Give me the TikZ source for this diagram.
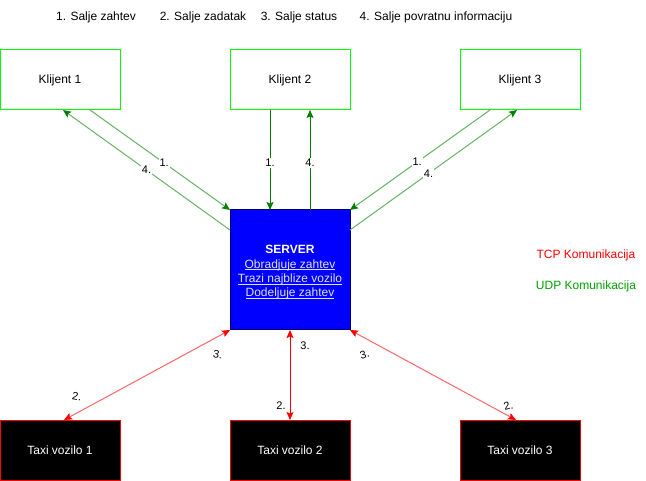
\documentclass[tikz,border=0pt]{standalone}
\usepackage{fontspec}
\setmainfont{Liberation Sans}
\usetikzlibrary{arrows.meta}
\usetikzlibrary{positioning}

\definecolor{udpline}{HTML}{66B366}
\definecolor{udpdark}{HTML}{008000}
\definecolor{udptext}{HTML}{00A000}
\definecolor{tcpline}{HTML}{FF6666}
\definecolor{tcpdark}{HTML}{FF0000}
\definecolor{klijent}{HTML}{00FF00}
\definecolor{srvtext}{HTML}{E0E0FF}

% underlined server task
\newcommand{\srvtask}[1]{\textcolor{srvtext}{\setbox0\hbox{#1}\rlap{\rule[-1.9pt]{\wd0}{0.9pt}}\box0}}

\begin{document}
\begin{tikzpicture}[x=1pt,y=-1pt,line width=1pt,node distance=110pt,
  font=\fontsize{12}{14}\selectfont,
  client node/.style={rectangle,draw=klijent,fill=white,minimum width=120pt,minimum height=60pt,inner sep=0pt,outer sep=0pt},
  taxi node/.style={rectangle,draw=tcpdark,fill=black,text=white,minimum width=120pt,minimum height=60pt,inner sep=0pt,outer sep=0pt},
  server node/.style={rectangle,draw=blue!40!black,fill=blue,minimum size=120pt,inner sep=0pt,outer sep=0pt},
  server text/.style={text=white,align=center,inner sep=0pt,font=\fontsize{12}{14.3}\selectfont},
  udp/.style={udpline,-{Stealth[length=8pt,width=7pt,inset=1.5pt,color=udpdark]}},
  udp strong/.style={udpdark,-{Stealth[length=8pt,width=7pt,inset=1.5pt]}},
  tcp/.style={tcpline,{Stealth[length=8pt,width=7pt,inset=1.5pt,color=tcpdark]}-{Stealth[length=8pt,width=7pt,inset=1.5pt,color=tcpdark]}},
  tcp strong/.style={tcpdark,{Stealth[length=8pt,width=7pt,inset=1.5pt]}-{Stealth[length=8pt,width=7pt,inset=1.5pt]}},
  num/.style={font=\fontsize{11}{13}\selectfont,text=black,fill=white,inner sep=1pt}]

  \useasboundingbox (0,0) rectangle (646,481);

  \node (s1) at (96,17) {1. Salje zahtev};
  \node (s2) at (203,17) {2. Salje zadatak};
  \node (s3) at (299,17) {3. Salje status};
  \node (s4) at (436,17) {4. Salje povratnu informaciju};

  \node[client node] (k1) at (60,80) {Klijent 1};
  \node[client node] (k2) [right=of k1] {Klijent 2};
  \node[client node] (k3) [right=of k2] {Klijent 3};
  \node[server node] (srv) [below=100pt of k2] {};
  \node[server text] (srvtxt) at ([yshift=-2.5pt]srv.center) {\textbf{SERVER}\\
    \srvtask{Obradjuje zahtev}\\
    \srvtask{Trazi najblize vozilo}\\
    \srvtask{Dodeljuje zahtev}};
  \node[taxi node] (t2) [below=90pt of srv] {Taxi vozilo 2};
  \node[taxi node] (t1) [left=of t2] {Taxi vozilo 1};
  \node[taxi node] (t3) [right=of t2] {Taxi vozilo 3};

  \node[text=tcpdark] (tcp) at (586,255) {TCP Komunikacija};
  \node[text=udptext] (udp) at (586,286) {UDP Komunikacija};

  \path[every node/.style=num]
    ([xshift=30pt]k1.south) edge[udp] node[pos=0.53] {1.} (srv.north west)
    ([yshift=-20pt]srv.north west) edge[udp] node[pos=0.5] {4.} ([xshift=3pt]k1.south)
    ([xshift=-20pt]k2.south) edge[udp strong] node[pos=0.53] {1.} ([xshift=-20pt]srv.north)
    ([xshift=20pt]srv.north) edge[udp strong] node[pos=0.47] {4.} ([xshift=20pt]k2.south)
    ([xshift=-30pt]k3.south) edge[udp] node[pos=0.52] {1.} (srv.north east)
    ([yshift=-20pt]srv.north east) edge[udp] node[pos=0.47] {4.} ([xshift=-3pt]k3.south);

  \path[every node/.style=num]
    (srv.south west) edge[tcp]
      node[pos=0.11,xshift=6pt,yshift=-15pt,rotate=-10] {3.}
      node[pos=0.88,xshift=-7pt,yshift=13pt,rotate=-10] {2.} ([xshift=4pt]t1.north)
    (srv.south) edge[tcp strong]
      node[pos=0.18,xshift=15pt] {3.}
      node[pos=0.84,xshift=-9pt] {2.} (t2.north)
    (srv.south east) edge[tcp]
      node[pos=0.13,xshift=-7pt,yshift=-13pt,rotate=15] {3.}
      node[pos=0.93,xshift=4pt,yshift=8pt,rotate=15] {2.} ([xshift=-4pt]t3.north);
\end{tikzpicture}
\end{document}
